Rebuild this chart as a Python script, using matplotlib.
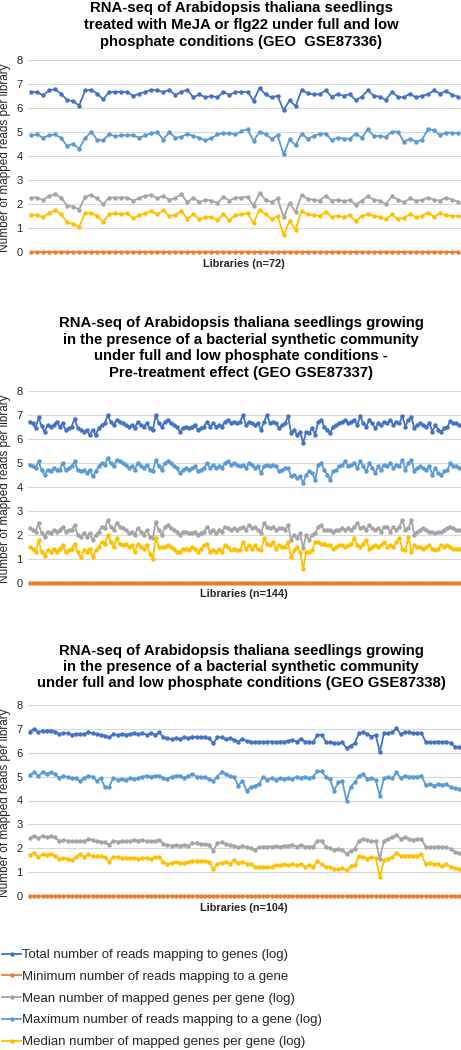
import matplotlib

matplotlib.use("Agg")
import matplotlib.pyplot as plt

# ---- data (log-scaled read counts per library) ----
series_labels = [
    "Total number of reads mapping to genes (log)",
    "Minimum number of reads mapping to a gene",
    "Mean number of mapped genes per gene (log)",
    "Maximum number of reads mapping to a gene (log)",
    "Median number of mapped genes per gene (log)",
]
series_colors = ["#4472C4", "#ED7D31", "#A5A5A5", "#5B9BD5", "#FFC000"]

titles = [
    "RNA-seq of Arabidopsis thaliana seedlings\ntreated with MeJA or flg22 under full and low\nphosphate conditions (GEO  GSE87336)",
    "RNA-seq of Arabidopsis thaliana seedlings growing\nin the presence of a bacterial synthetic community\nunder full and low phosphate conditions -\nPre-treatment effect (GEO GSE87337)",
    "RNA-seq of Arabidopsis thaliana seedlings growing\nin the presence of a bacterial synthetic community\nunder full and low phosphate conditions (GEO GSE87338)",
]
xlabels = ["Libraries (n=72)", "Libraries (n=144)", "Libraries (n=104)"]
ylabel = "Number of mapped reads per library"

# GSE87336, 72 libraries
p1_total = [6.67, 6.67, 6.53, 6.73, 6.79, 6.59, 6.33, 6.29, 6.10, 6.73,
            6.76, 6.60, 6.36, 6.67, 6.67, 6.67, 6.67, 6.50, 6.60, 6.67,
            6.76, 6.73, 6.67, 6.76, 6.54, 6.67, 6.76, 6.44, 6.57, 6.44,
            6.51, 6.44, 6.67, 6.54, 6.67, 6.67, 6.67, 6.31, 6.83, 6.57,
            6.44, 6.51, 5.90, 6.33, 6.07, 6.76, 6.61, 6.57, 6.57, 6.73,
            6.47, 6.57, 6.51, 6.57, 6.33, 6.47, 6.73, 6.51, 6.47, 6.33,
            6.67, 6.47, 6.44, 6.60, 6.44, 6.51, 6.57, 6.73, 6.60, 6.71,
            6.56, 6.47]
p1_min = [0.0] * 72
p1_mean = [2.27, 2.27, 2.18, 2.32, 2.41, 2.27, 1.93, 1.89, 1.77, 2.30,
           2.38, 2.23, 2.00, 2.27, 2.27, 2.27, 2.27, 2.14, 2.25, 2.34,
           2.37, 2.23, 2.34, 2.18, 2.25, 2.41, 2.07, 2.26, 2.07, 2.18,
           2.14, 2.04, 2.30, 2.14, 2.27, 2.27, 2.30, 1.93, 2.45, 2.18,
           2.07, 2.23, 1.45, 2.04, 1.66, 2.38, 2.21, 2.18, 2.14, 2.34,
           2.14, 2.18, 2.11, 2.16, 1.97, 2.14, 2.32, 2.18, 2.14, 2.00,
           2.32, 2.18, 2.07, 2.23, 2.14, 2.16, 2.27, 2.18, 2.14, 2.27,
           2.18, 2.10]
p1_max = [4.86, 4.90, 4.76, 4.86, 4.90, 4.75, 4.42, 4.51, 4.31, 4.74,
          5.00, 4.68, 4.65, 4.90, 4.83, 4.86, 4.86, 4.86, 4.76, 4.86,
          4.94, 5.00, 4.68, 5.00, 4.76, 4.80, 4.93, 4.83, 4.76, 4.65,
          4.74, 4.90, 4.94, 4.94, 4.90, 5.04, 5.11, 4.63, 5.00, 4.90,
          4.72, 4.86, 4.07, 4.69, 4.44, 4.93, 4.72, 4.83, 4.93, 4.93,
          4.67, 4.76, 4.72, 4.72, 4.93, 4.76, 5.11, 4.83, 4.83, 4.80,
          5.01, 5.01, 4.60, 4.72, 4.60, 4.67, 5.11, 5.08, 4.86, 4.97,
          4.97, 4.94]
p1_median = [1.56, 1.53, 1.46, 1.61, 1.74, 1.57, 1.24, 1.17, 1.04, 1.64,
             1.61, 1.50, 1.26, 1.57, 1.61, 1.57, 1.61, 1.40, 1.53, 1.61,
             1.69, 1.57, 1.74, 1.50, 1.53, 1.71, 1.39, 1.57, 1.36, 1.46,
             1.46, 1.33, 1.57, 1.33, 1.53, 1.57, 1.61, 1.21, 1.76, 1.57,
             1.36, 1.50, 0.71, 1.29, 0.93, 1.71, 1.57, 1.53, 1.50, 1.67,
             1.47, 1.50, 1.46, 1.53, 1.29, 1.50, 1.57, 1.50, 1.46, 1.36,
             1.57, 1.36, 1.43, 1.57, 1.46, 1.50, 1.64, 1.47, 1.61, 1.53,
             1.50, 1.50]

# GSE87337, 144 libraries
p2_total = [6.72, 6.65, 6.45, 6.90, 6.54, 6.31, 6.58, 6.52, 6.58, 6.72, 6.52, 6.65, 6.38, 6.45,
            6.52, 6.85, 6.45, 6.38, 6.31, 6.38, 6.17, 6.38, 6.17, 6.45, 6.58, 6.65, 7.00, 6.72,
            6.58, 6.80, 6.72, 6.65, 6.58, 6.52, 6.58, 6.45, 6.72, 6.58, 6.52, 6.65, 6.45, 6.38,
            7.00, 6.65, 6.52, 6.72, 6.80, 6.65, 6.58, 6.52, 6.31, 6.45, 6.52, 6.45, 6.52, 6.58,
            6.38, 6.45, 6.52, 6.72, 6.52, 6.65, 6.52, 6.58, 6.52, 6.72, 6.80, 6.65, 6.72, 6.65,
            6.72, 7.00, 6.58, 6.72, 6.65, 6.58, 6.65, 6.38, 6.72, 7.00, 6.65, 6.72, 6.65, 6.45, 6.58,
            6.65, 6.95, 6.24, 6.38, 6.17, 6.31, 5.82, 6.31, 6.24, 6.45, 6.17, 6.72, 6.80, 6.52, 6.38,
            6.24, 6.52, 6.58, 6.65, 6.72, 6.80, 6.65, 6.72, 6.80, 6.58, 6.95, 6.65, 6.52, 6.80, 6.65,
            6.45, 6.65, 6.58, 6.72, 6.65, 6.80, 6.58, 6.72, 6.65, 6.95, 6.52, 6.80, 6.90, 6.45, 6.58,
            6.65, 6.58, 6.52, 6.65, 6.31, 6.58, 6.38, 6.31, 6.45, 6.52, 6.75, 6.65, 6.65, 6.58]
p2_min = [0.0] * 144
p2_mean = [2.28, 2.21, 2.14, 2.49, 2.07, 1.93, 2.14, 2.07, 2.21, 2.14, 2.21, 2.35, 2.14, 2.21,
           2.21, 2.42, 2.00, 1.93, 2.07, 1.93, 2.07, 1.79, 2.00, 2.14, 2.35, 2.28, 2.63, 2.35,
           2.21, 2.49, 2.35, 2.28, 2.21, 2.07, 2.14, 2.00, 2.28, 2.14, 2.00, 2.21, 1.93, 1.86,
           2.56, 2.21, 2.00, 2.35, 2.42, 2.28, 2.21, 2.14, 2.00, 2.14, 2.14, 2.07, 2.07, 2.14,
           2.00, 2.07, 2.14, 2.35, 2.14, 2.21, 2.07, 2.21, 2.14, 2.35, 2.28, 2.21, 2.28, 2.21,
           2.28, 2.35, 2.21, 2.42, 2.28, 2.35, 2.21, 2.07, 2.49, 2.35, 2.28, 2.35, 2.21, 2.28, 2.28,
           2.21, 2.42, 1.79, 2.00, 1.86, 2.07, 1.44, 2.00, 1.79, 2.00, 2.07, 2.35, 2.42, 2.21, 2.21,
           2.21, 2.14, 2.21, 2.21, 2.28, 2.21, 2.28, 2.21, 2.35, 2.49, 2.28, 2.35, 2.21, 2.42, 2.28,
           2.21, 2.28, 2.14, 2.35, 2.35, 2.14, 2.35, 2.21, 2.35, 2.63, 2.21, 2.28, 2.63, 2.00, 2.14,
           2.21, 2.28, 2.21, 2.14, 2.14, 2.07, 2.14, 2.14, 2.21, 2.28, 2.35, 2.28, 2.21, 2.21]
p2_max = [4.93, 4.86, 4.79, 5.07, 4.72, 4.51, 4.72, 4.65, 4.79, 4.72, 4.72, 5.00, 4.72, 4.79,
          4.86, 5.07, 4.72, 4.65, 4.72, 4.58, 4.72, 4.44, 4.65, 4.86, 5.00, 4.93, 5.21, 5.00,
          4.86, 5.14, 5.07, 5.00, 4.93, 4.79, 4.86, 4.72, 5.00, 4.86, 4.79, 4.93, 4.72, 4.65,
          5.14, 4.86, 4.72, 5.00, 5.07, 5.00, 4.86, 4.79, 4.58, 4.72, 4.79, 4.72, 4.79, 4.86,
          4.65, 4.72, 4.79, 5.00, 4.79, 4.93, 4.79, 4.86, 4.79, 5.00, 5.07, 4.93, 5.00, 4.93,
          4.86, 4.93, 4.79, 5.00, 4.93, 4.79, 4.86, 4.58, 4.86, 4.93, 4.86, 4.93, 4.86, 4.65, 4.72,
          4.79, 4.79, 4.44, 4.51, 4.37, 4.44, 4.17, 4.51, 4.65, 4.58, 4.30, 4.93, 5.00, 4.72, 4.51,
          4.30, 4.65, 4.72, 4.86, 4.93, 5.07, 4.86, 4.93, 5.00, 4.79, 5.07, 4.86, 4.65, 5.00, 4.79,
          4.58, 4.86, 4.72, 4.93, 4.86, 5.00, 4.79, 4.93, 4.86, 5.14, 4.72, 5.00, 5.14, 4.65, 4.79,
          4.86, 4.79, 4.72, 4.86, 4.51, 4.79, 4.58, 4.51, 4.65, 4.72, 5.00, 4.86, 4.86, 4.79]
p2_median = [1.50, 1.43, 1.29, 1.79, 1.29, 1.14, 1.36, 1.29, 1.43, 1.29, 1.43, 1.57, 1.29, 1.36,
             1.43, 1.64, 1.29, 1.07, 1.36, 1.29, 1.43, 1.07, 1.36, 1.50, 1.71, 1.64, 2.00, 1.71,
             1.50, 1.86, 1.64, 1.57, 1.64, 1.50, 1.57, 1.29, 1.64, 1.50, 1.43, 1.57, 1.21, 1.00,
             1.86, 1.50, 1.50, 1.50, 1.57, 1.50, 1.43, 1.29, 1.29, 1.43, 1.43, 1.36, 1.50, 1.43,
             1.29, 1.43, 1.57, 1.64, 1.29, 1.36, 1.29, 1.43, 1.29, 1.57, 1.50, 1.36, 1.43, 1.36,
             1.36, 1.71, 1.43, 1.57, 1.43, 1.57, 1.43, 1.36, 1.86, 1.64, 1.57, 1.71, 1.43, 1.57, 1.50,
             1.50, 1.71, 1.07, 1.36, 1.50, 1.29, 0.57, 1.29, 1.29, 1.36, 1.71, 1.71, 1.64, 1.64, 1.57,
             1.57, 1.43, 1.50, 1.57, 1.57, 1.50, 1.57, 1.64, 1.86, 1.57, 1.50, 1.64, 1.79, 1.43, 1.50,
             1.57, 1.50, 1.57, 1.71, 1.50, 1.57, 1.50, 1.71, 1.86, 1.43, 1.36, 1.93, 1.29, 1.57, 1.50,
             1.50, 1.43, 1.50, 1.57, 1.43, 1.36, 1.43, 1.57, 1.50, 1.57, 1.50, 1.43, 1.43, 1.43]

# GSE87338, 104 libraries
p3_total = [6.89, 6.99, 6.86, 6.93, 6.92, 6.93, 6.89, 6.78, 6.82, 6.82,
            6.75, 6.78, 6.78, 6.78, 6.85, 6.82, 6.78, 6.75, 6.72, 6.64,
            6.79, 6.75, 6.78, 6.75, 6.79, 6.82, 6.78, 6.82, 6.75, 6.82,
            6.75, 6.85, 6.65, 6.61, 6.57, 6.61, 6.57, 6.64, 6.61, 6.68,
            6.65, 6.65, 6.65, 6.61, 6.40, 6.64, 6.65, 6.57, 6.61, 6.54,
            6.47, 6.57, 6.50, 6.47, 6.43, 6.47, 6.44, 6.47, 6.47, 6.44,
            6.47, 6.47, 6.50, 6.54, 6.47, 6.58, 6.47, 6.47, 6.44, 6.75,
            6.75, 6.47, 6.43, 6.40, 6.40, 6.43, 6.19, 6.29, 6.40, 6.82,
            6.85, 6.79, 6.68, 6.75, 6.02, 6.82, 6.82, 6.85, 7.03, 6.78,
            6.86, 6.85, 6.82, 6.82, 6.82, 6.47, 6.44, 6.44, 6.47, 6.44,
            6.47, 6.40, 6.26, 6.23]
p3_min = [0.0] * 104
p3_mean = [2.43, 2.53, 2.42, 2.53, 2.46, 2.50, 2.46, 2.29, 2.35, 2.32,
           2.29, 2.29, 2.29, 2.29, 2.39, 2.35, 2.29, 2.28, 2.25, 2.15,
           2.32, 2.28, 2.29, 2.29, 2.32, 2.35, 2.32, 2.35, 2.29, 2.32,
           2.29, 2.36, 2.18, 2.14, 2.11, 2.14, 2.11, 2.15, 2.11, 2.22,
           2.21, 2.18, 2.18, 2.15, 1.90, 2.21, 2.25, 2.18, 2.15, 2.11,
           2.04, 2.11, 2.04, 2.01, 1.93, 2.04, 2.07, 2.07, 2.07, 2.08,
           2.07, 2.11, 2.11, 2.15, 2.07, 2.14, 2.07, 2.07, 2.07, 2.32,
           2.32, 2.07, 2.01, 1.93, 1.97, 1.93, 1.76, 1.90, 1.97, 2.32,
           2.39, 2.35, 2.29, 2.32, 1.55, 2.32, 2.39, 2.46, 2.57, 2.39,
           2.46, 2.39, 2.36, 2.39, 2.39, 2.07, 2.04, 2.04, 2.07, 2.04,
           2.04, 1.97, 1.86, 1.79]
p3_max = [5.08, 5.18, 5.01, 5.21, 5.11, 5.18, 5.11, 4.94, 5.04, 4.97,
          4.94, 4.94, 4.80, 4.94, 5.04, 5.00, 4.83, 4.94, 4.55, 4.58,
          4.94, 4.86, 4.90, 4.86, 4.94, 4.90, 4.94, 5.00, 5.04, 5.00,
          5.04, 5.04, 4.94, 4.90, 5.00, 5.04, 5.04, 4.94, 5.04, 5.11,
          5.00, 5.00, 4.97, 4.90, 4.83, 5.00, 5.21, 5.11, 5.01, 5.00,
          4.62, 4.83, 4.41, 4.55, 4.62, 4.69, 5.00, 4.86, 4.94, 4.86,
          4.94, 4.90, 4.94, 4.90, 5.00, 4.94, 5.00, 4.94, 5.00, 5.22,
          5.22, 5.00, 4.90, 4.41, 4.76, 4.80, 3.99, 4.58, 4.76, 5.04,
          5.11, 4.90, 4.94, 4.86, 4.20, 4.94, 4.97, 4.94, 5.18, 4.94,
          5.04, 5.00, 5.00, 5.00, 5.04, 4.66, 4.69, 4.62, 4.69, 4.66,
          4.69, 4.55, 4.52, 4.48]
p3_median = [1.72, 1.79, 1.63, 1.74, 1.72, 1.74, 1.69, 1.56, 1.58, 1.56,
             1.49, 1.63, 1.74, 1.63, 1.74, 1.67, 1.67, 1.67, 1.63, 1.42,
             1.65, 1.63, 1.60, 1.60, 1.60, 1.60, 1.56, 1.58, 1.60, 1.56,
             1.63, 1.65, 1.42, 1.32, 1.39, 1.42, 1.39, 1.39, 1.44, 1.46,
             1.46, 1.46, 1.46, 1.42, 1.11, 1.35, 1.39, 1.42, 1.35, 1.49,
             1.38, 1.42, 1.35, 1.32, 1.21, 1.21, 1.21, 1.21, 1.21, 1.28,
             1.28, 1.32, 1.28, 1.32, 1.28, 1.32, 1.21, 1.28, 1.21, 1.46,
             1.32, 1.21, 1.21, 1.14, 1.11, 1.18, 1.07, 1.25, 1.28, 1.67,
             1.63, 1.56, 1.63, 1.60, 0.79, 1.49, 1.56, 1.63, 1.81, 1.67,
             1.69, 1.69, 1.67, 1.69, 1.74, 1.35, 1.39, 1.32, 1.32, 1.25,
             1.32, 1.21, 1.17, 1.14]

panel_series = [
    [p1_total, p1_min, p1_mean, p1_max, p1_median],
    [p2_total, p2_min, p2_mean, p2_max, p2_median],
    [p3_total, p3_min, p3_mean, p3_max, p3_median],
]

# ---- layout (pixels, measured from the top-left of the 461x1050 image) ----
W, H = 461, 1050
# (left, top, right, bottom) of each plot area, title centre y, x-label centre y
panel_boxes = [(28, 60, 461, 252), (28, 391, 461, 583), (28, 705, 461, 896)]
title_y = [25, 348, 667]
title_spacing = [1.24, 1.25, 1.18]
xlabel_y = [264, 594, 908]

plt.rcParams["font.family"] = ["Liberation Sans", "DejaVu Sans"]


def px_rect(left, top, right, bottom):
    return [left / W, 1 - bottom / H, (right - left) / W, (bottom - top) / H]


fig = plt.figure(figsize=(W / 100, H / 100), dpi=100)

for k, series in enumerate(panel_series):
    left, top, right, bottom = panel_boxes[k]
    ax = fig.add_axes(px_rect(left, top, right, bottom))
    n = len(series[0])
    x = list(range(n))
    for vals, color, label in zip(series, series_colors, series_labels):
        ax.plot(x, vals, color=color, lw=1.3, marker="o", ms=3.2, mew=0,
                label=label, clip_on=False, zorder=3)
    ax.set_xlim(-0.5, n - 0.5)
    ax.set_ylim(0, 8)
    ax.set_yticks(range(9))
    ax.set_xticks([])
    ax.grid(axis="y", color="#D9D9D9", lw=0.8)
    ax.set_axisbelow(True)
    for s in ax.spines.values():
        s.set_visible(False)
    ax.tick_params(axis="y", length=0, labelsize=8, labelcolor="#262626", pad=4)

    mid_y = 1 - (top + bottom + 4) / 2 / H
    fig.text(5.5 / W, mid_y, ylabel, rotation=90, ha="center", va="center",
             fontsize=8.5, color="#262626")
    fig.text(244 / W, 1 - xlabel_y[k] / H, xlabels[k], ha="center", va="center",
             fontsize=7.8, fontweight="bold", color="#262626")
    fig.text(241 / W, 1 - title_y[k] / H, titles[k], ha="center", va="center",
             fontsize=10.7, fontweight="bold", linespacing=title_spacing[k])

    if k == 0:
        handles, labels = ax.get_legend_handles_labels()

fig.legend(handles, labels, loc="upper left", bbox_to_anchor=(2 / W, 1 - 949 / H),
           frameon=False, fontsize=9.5, handlelength=1.45, handletextpad=0.1,
           labelspacing=0.72, borderaxespad=0, borderpad=0, labelcolor="#262626")

fig.savefig("out.png", dpi=100)
